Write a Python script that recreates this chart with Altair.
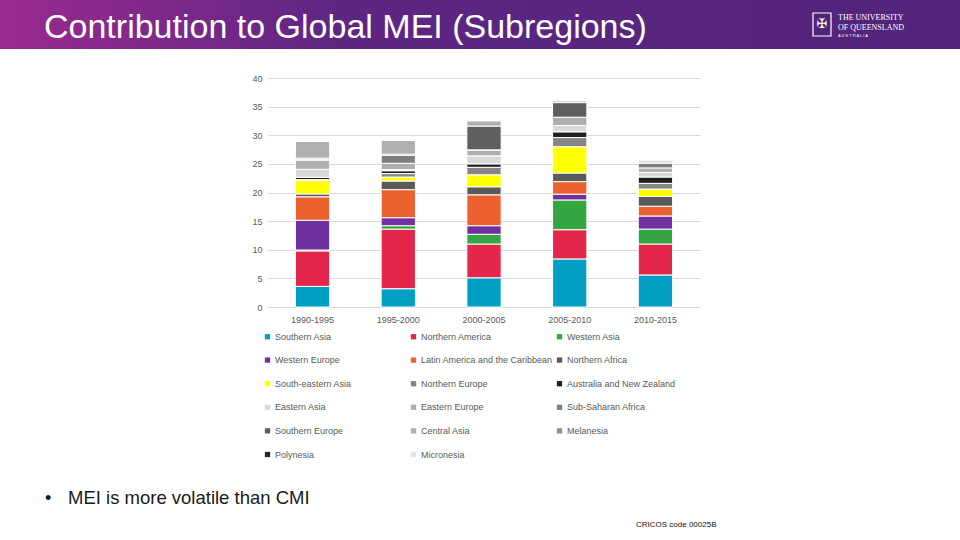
import altair as alt
import pandas as pd

# Five-year periods on the x axis
periods = ["1990-1995", "1995-2000", "2000-2005", "2005-2010", "2010-2015"]

# Subregions, in stacking order (bottom to top) and legend order
regions = [
    "Southern Asia", "Northern America", "Western Asia",
    "Western Europe", "Latin America and the Caribbean", "Northern Africa",
    "South-eastern Asia", "Northern Europe", "Australia and New Zealand",
    "Eastern Asia", "Eastern Europe", "Sub-Saharan Africa",
    "Southern Europe", "Central Asia", "Melanesia",
    "Polynesia", "Micronesia",
]

region_colors = [
    "#00A0C6", "#E3264A", "#33A541",
    "#7030A0", "#EB622F", "#5A5A5A",
    "#FFFF00", "#868686", "#1F1F1F",
    "#D9D9D9", "#AFAFAF", "#7F7F7F",
    "#5F5F5F", "#B0B0B0", "#8F8F8F",
    "#262626", "#E3E3E3",
]

# Contribution to global MEI per subregion, one list per period (same order as regions)
mei_1990_1995 = [3.6, 6.2, 0.15, 5.2, 4.1, 0.5, 2.4, 0.1, 0.4, 1.4, 1.6, 0.1, 0.25, 2.9, 0, 0, 0]
mei_1995_2000 = [3.2, 10.4, 0.6, 1.4, 4.9, 1.5, 0.7, 0.6, 0.5, 0.2, 1.1, 1.4, 0.2, 2.4, 0, 0, 0]
mei_2000_2005 = [5.1, 5.9, 1.7, 1.5, 5.4, 1.4, 2.1, 1.3, 0.6, 1.4, 1.0, 0.05, 4.15, 0.9, 0, 0, 0]
mei_2005_2010 = [8.4, 5.1, 5.2, 1.0, 2.2, 1.5, 4.6, 1.6, 1.0, 1.1, 1.4, 0.05, 2.55, 0.3, 0, 0, 0]
mei_2010_2015 = [5.6, 5.4, 2.6, 2.3, 1.7, 1.7, 1.3, 1.0, 1.1, 0.8, 0.8, 0.8, 0.2, 0.25, 0.1, 0.05, 0.05]

y_ticks = [0, 5, 10, 15, 20, 25, 30, 35, 40]

series = [mei_1990_1995, mei_1995_2000, mei_2000_2005, mei_2005_2010, mei_2010_2015]
rows = []
for period, vals in zip(periods, series):
    for rank, (region, v) in enumerate(zip(regions, vals)):
        if v > 0:
            rows.append({"period": period, "region": region, "rank": rank, "value": v})
df = pd.DataFrame(rows)

one = pd.DataFrame({"k": [0]})
FONT = "Liberation Sans"
GREY = "#595959"

bars = alt.Chart(df).mark_bar(stroke="white", strokeWidth=1).encode(
    x=alt.X(
        "period:N", sort=periods, title=None,
        scale=alt.Scale(paddingInner=0.6, paddingOuter=0.32),
        axis=alt.Axis(labelAngle=0, ticks=False, domain=False, grid=False,
                      labelPadding=8, labelFontSize=9, labelColor=GREY, labelFont=FONT),
    ),
    y=alt.Y(
        "value:Q", stack="zero", title=None,
        scale=alt.Scale(domain=[0, 40], nice=False),
        axis=alt.Axis(values=y_ticks, ticks=False, domain=False, gridColor="#D9D9D9",
                      gridWidth=1, labelPadding=6, labelFontSize=9, labelColor=GREY,
                      labelFont=FONT),
    ),
    color=alt.Color(
        "region:N",
        scale=alt.Scale(domain=regions, range=region_colors),
        legend=alt.Legend(
            title=None, orient="none", legendX=-5, legendY=254, columns=3,
            direction="horizontal", gridAlign="all", columnPadding=2, rowPadding=13.6,
            symbolType="square", symbolSize=28, symbolStrokeWidth=0,
            labelFontSize=9, labelColor=GREY, labelFont=FONT, labelLimit=300,
            labelOffset=3,
        ),
    ),
    order=alt.Order("rank:Q", sort="ascending"),
)

# Purple banner across the top of the slide
banner = alt.Chart(one).mark_rect(
    color=alt.LinearGradient(
        gradient="linear",
        stops=[
            alt.GradientStop(color="#9B2A8F", offset=0),
            alt.GradientStop(color="#5E2683", offset=0.35),
            alt.GradientStop(color="#51247A", offset=1),
        ],
        x1=0, x2=1, y1=0, y2=0,
    )
).encode(x=alt.value(-268), x2=alt.value(692), y=alt.value(-78), y2=alt.value(-29))

title = alt.Chart(one).mark_text(
    text="Contribution to Global MEI (Subregions)", align="left", baseline="alphabetic",
    fontSize=34, color="white", font=FONT,
).encode(x=alt.value(44 - 268), y=alt.value(38 - 78))

crest = alt.Chart(one).mark_rect(fill="#51247A", stroke="white", strokeWidth=1.2).encode(
    x=alt.value(813 - 268), x2=alt.value(831 - 268), y=alt.value(13 - 78), y2=alt.value(36 - 78)
)
crest_mark = alt.Chart(one).mark_text(
    text="✠", fontSize=13, color="white", font="DejaVu Sans", baseline="middle", align="center"
).encode(x=alt.value(822 - 268), y=alt.value(24 - 78))

uni1 = alt.Chart(one).mark_text(
    text="THE UNIVERSITY", align="left", baseline="alphabetic", fontSize=8,
    color="white", font="Liberation Serif",
).encode(x=alt.value(838 - 268), y=alt.value(20 - 78))
uni2 = alt.Chart(one).mark_text(
    text="OF QUEENSLAND", align="left", baseline="alphabetic", fontSize=8,
    color="white", font="Liberation Serif",
).encode(x=alt.value(838 - 268), y=alt.value(30 - 78))
uni3 = alt.Chart(one).mark_text(
    text="A U S T R A L I A", align="left", baseline="alphabetic", fontSize=4,
    color="white", font="Liberation Sans",
).encode(x=alt.value(838 - 268), y=alt.value(37 - 78))

bullet = alt.Chart(one).mark_text(
    text="•", align="left", baseline="alphabetic", fontSize=18, color="#1A1A1A", font=FONT,
).encode(x=alt.value(45 - 268), y=alt.value(504 - 78))
note = alt.Chart(one).mark_text(
    text="MEI is more volatile than CMI", align="left", baseline="alphabetic",
    fontSize=18.5, color="#1A1A1A", font=FONT,
).encode(x=alt.value(68 - 268), y=alt.value(504 - 78))

cricos = alt.Chart(one).mark_text(
    text="CRICOS code 00025B", align="left", baseline="alphabetic", fontSize=8,
    color="#111111", font=FONT,
).encode(x=alt.value(636 - 268), y=alt.value(527 - 78))

chart = alt.layer(
    banner, title, crest, crest_mark, uni1, uni2, uni3, bars, bullet, note, cricos
).properties(
    width=432, height=229,
    padding={"left": 268, "top": 78, "right": 260, "bottom": 233},
    autosize="none", background="white",
).configure_view(stroke=None)

chart.save("out.html", embed_options={"renderer": "svg", "actions": False})
